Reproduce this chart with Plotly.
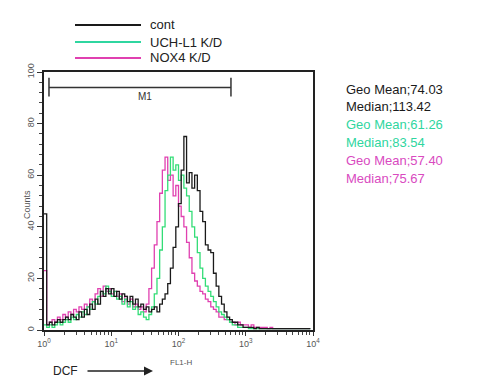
import plotly.graph_objects as go

# ---- data ----
DECADE_STEP = 0.04
N_CH = 100
LOG_CHANNELS = [round(i * DECADE_STEP, 2) for i in range(N_CH)]

cont = [45, 2, 3, 2, 3, 4, 3, 4, 5, 4,
        6, 5, 4, 7, 5, 8, 6, 10, 8, 12,
        10, 15, 13, 16, 14, 16, 13, 15, 12, 14,
        13, 11, 13, 10, 12, 9, 10, 8, 9, 7,
        8, 9, 7, 10, 12, 14, 18, 24, 32, 40,
        49, 62, 75, 57, 61, 55, 60, 54, 46, 42,
        33, 31, 30, 22, 17, 13, 10, 7, 5, 4,
        3, 3, 2, 2, 1, 1, 1, 1, 0.5, 1,
        0.5, 0.5, 0.5, 0.5, 0.5, 0.5, 0.5, 0.5, 0.5, 0.5,
        0.5, 0.5, 0.5, 0.5, 0.5, 0.5, 0.5, 0.5, 0.5, 0.5]

uchl1 = [2, 1, 2, 1, 2, 3, 2, 3, 4, 3,
         5, 4, 6, 5, 7, 6, 9, 8, 11, 10,
         13, 15, 14, 17, 15, 13, 15, 12, 13, 10,
         12, 9, 11, 8, 9, 6, 7, 5, 4, 6,
         9, 14, 20, 31, 40, 54, 60, 67, 62, 64,
         58, 60, 55, 52, 46, 40, 36, 30, 24, 20,
         17, 15, 13, 11, 9, 7, 6, 5, 4, 3,
         2, 2, 1, 1, 1, 1, 0.5, 0.5, 0.5, 0.5,
         0.5, 0.5, 0.5, 0.5, 0.5, 0.5, 0.5, 0.5, 0.5, 0.5,
         0.5, 0.5, 0.5, 0.5, 0.5, 0.5, 0.5, 0.5, 0.5, 0.5]

nox4 = [23, 2, 3, 4, 3, 5, 4, 6, 5, 7,
        6, 8, 7, 9, 8, 10, 9, 12, 11, 14,
        16, 13, 17, 15, 16, 14, 15, 13, 14, 11,
        13, 10, 12, 9, 10, 8, 9, 7, 10, 16,
        24, 33, 42, 53, 62, 67, 58, 60, 52, 56,
        48, 44, 40, 34, 28, 22, 19, 17, 15, 14,
        12, 11, 9, 8, 7, 5, 5, 4, 4, 3,
        3, 2, 3, 2, 2, 2, 1, 2, 1, 1,
        1, 1, 1, 0.5, 1, 0.5, 0.5, 0.5, 0.5, 0.5,
        0.5, 0.5, 0.5, 0.5, 0.5, 0.5, 0.5, 0.5, 0.5, 0.5]

series_names = ["cont", "UCH-L1 K/D", "NOX4 K/D"]
stats_text = ["Geo Mean;74.03", "Median;113.42",
              "Geo Mean;61.26", "Median;83.54",
              "Geo Mean;57.40", "Median;75.67"]
x_tick_vals = [1, 10, 100, 1000, 10000]
x_tick_text = ["10<sup>0</sup>", "10<sup>1</sup>", "10<sup>2</sup>",
               "10<sup>3</sup>", "10<sup>4</sup>"]
marker_range_log = [0.074, 2.78]   # M1 gate, in decades

# ---- styling ----
W, H = 484, 379
L, R, T, B = 44, 313, 72, 330
FONT = "Liberation Sans, Arial, sans-serif"
C_BLACK = "#1a1a1a"
C_GREEN_LINE = "#33dd77"
C_GREEN_TXT = "#2fd6a0"
C_MAG = "#e040b0"
C_MAG_TXT = "#d94abf"


def px(x):
    return (x - L) / (R - L)


def py(y):
    return (B - y) / (B - T)


fig = go.Figure()
xvals = [10 ** v for v in LOG_CHANNELS]
for name, ys, col in [(series_names[2], nox4, C_MAG),
                      (series_names[1], uchl1, C_GREEN_LINE),
                      (series_names[0], cont, C_BLACK)]:
    fig.add_trace(go.Scatter(x=xvals, y=ys, mode="lines", name=name,
                             line=dict(color=col, width=1.3, shape="hv"),
                             showlegend=False))

minor_x = [k * 10 ** d for d in range(4) for k in range(2, 10)]

fig.update_layout(
    width=W, height=H,
    margin=dict(l=L, r=W - R, t=T, b=H - B, autoexpand=False),
    paper_bgcolor="white", plot_bgcolor="white",
    font=dict(family=FONT, color="#333"),
    xaxis=dict(type="log", range=[0, 4], showgrid=False, zeroline=False,
               showline=True, linecolor="#222", linewidth=1.5, mirror=True,
               tickmode="array", tickvals=x_tick_vals, ticktext=x_tick_text,
               ticks="outside", ticklen=4, tickcolor="#333",
               tickfont=dict(size=9, color="#555"),
               minor=dict(tickmode="array", tickvals=minor_x, ticks="outside",
                          ticklen=3, tickcolor="#444")),
    yaxis=dict(range=[0, 100], showgrid=False, zeroline=False,
               showline=True, linecolor="#222", linewidth=1.5, mirror=True,
               tickmode="array", tickvals=[0, 20, 40, 60, 80, 100],
               ticks="outside", ticklen=5, tickcolor="#333", tickangle=-90,
               tickfont=dict(size=9, color="#555"),
               minor=dict(dtick=4, ticks="outside", ticklen=3, tickcolor="#444")),
)

# M1 marker bracket (shape x in data units on the log axis)
y_bar, y_cap0, y_cap1 = 94, 90.5, 97.8
mx = [10 ** v for v in marker_range_log]
fig.add_shape(type="line", xref="x", yref="y", x0=mx[0], x1=mx[1],
              y0=y_bar, y1=y_bar, line=dict(color="#333", width=1.5))
for xm in mx:
    fig.add_shape(type="line", xref="x", yref="y", x0=xm, x1=xm,
                  y0=y_cap0, y1=y_cap1, line=dict(color="#333", width=1.5))
fig.add_annotation(x=1.5, y=90.5, xref="x", yref="y", text="M1", showarrow=False,
                   font=dict(size=10, color="#333"))

# legend (manual)
leg_y = [25, 42, 58]
leg_cols = [C_BLACK, C_GREEN_TXT, C_MAG]
for yy, col, name in zip(leg_y, leg_cols, series_names):
    fig.add_shape(type="line", xref="paper", yref="paper", x0=px(75), x1=px(141),
                  y0=py(yy), y1=py(yy), line=dict(color=col, width=2.2))
    fig.add_annotation(x=px(148), y=py(yy), xref="paper", yref="paper", text=name,
                       showarrow=False, xanchor="left", yanchor="middle",
                       font=dict(size=13, color="#222"))

# statistics text
stat_cols = [C_BLACK, C_BLACK, C_GREEN_TXT, C_GREEN_TXT, C_MAG_TXT, C_MAG_TXT]
for i, (txt, col) in enumerate(zip(stats_text, stat_cols)):
    fig.add_annotation(x=px(344), y=py(89 + i * 17.8), xref="paper", yref="paper",
                       text=txt, showarrow=False, xanchor="left", yanchor="middle",
                       font=dict(size=13, color=col))

# axis titles
fig.add_annotation(x=px(20), y=py(205), xref="paper", yref="paper", text="Counts",
                   showarrow=False, textangle=-90, font=dict(size=9, color="#555"))
fig.add_annotation(x=px(181), y=py(356), xref="paper", yref="paper", text="FL1-H",
                   showarrow=False, yanchor="top", font=dict(size=8, color="#555"))
fig.add_annotation(x=px(51), y=py(371), xref="paper", yref="paper", text="DCF",
                   showarrow=False, xanchor="left", yanchor="middle",
                   font=dict(size=12, color="#222"))
fig.add_annotation(x=px(153), y=py(371), xref="paper", yref="paper", text="",
                   showarrow=True, ax=-67, ay=0, arrowhead=2, arrowsize=1.2,
                   arrowwidth=1.5, arrowcolor="#222")

fig.write_html("out.html", config={"displayModeBar": False},
               post_script="document.body.style.margin='0';")
